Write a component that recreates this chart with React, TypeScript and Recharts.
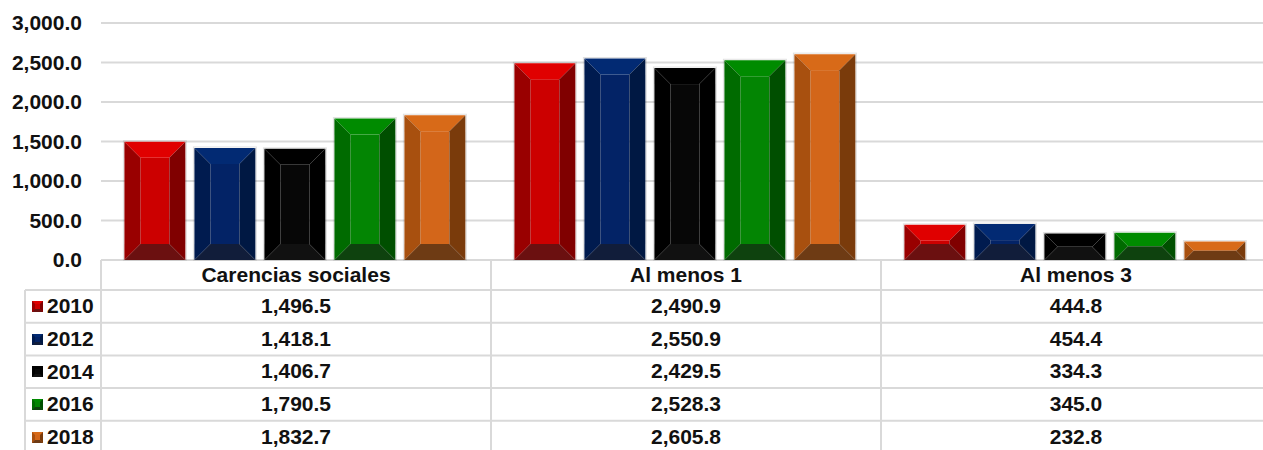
import { BarChart, Bar, XAxis, YAxis, CartesianGrid } from 'recharts'

// categories and values per year (thousands of people)
const categories = ['Carencias sociales', 'Al menos 1', 'Al menos 3']
const years = ['2010', '2012', '2014', '2016', '2018']
const v2010 = [1496.5, 2490.9, 444.8]
const v2012 = [1418.1, 2550.9, 454.4]
const v2014 = [1406.7, 2429.5, 334.3]
const v2016 = [1790.5, 2528.3, 345.0]
const v2018 = [1832.7, 2605.8, 232.8]
const yTicks = [0, 500, 1000, 1500, 2000, 2500, 3000]

const seriesValues = [v2010, v2012, v2014, v2016, v2018]

interface Palette {
  top: string
  left: string
  center: string
  right: string
  bottom: string
}

const palettes: Palette[] = [
  { top: '#e00000', left: '#990000', center: '#cc0000', right: '#800000', bottom: '#6b1010' },
  { top: '#022a73', left: '#001b4f', center: '#032366', right: '#001843', bottom: '#111d3a' },
  { top: '#000000', left: '#000000', center: '#070707', right: '#000000', bottom: '#111111' },
  { top: '#008b00', left: '#006b00', center: '#038503', right: '#004f00', bottom: '#0e420e' },
  { top: '#d86a18', left: '#a8500f', center: '#d3661a', right: '#7a3b0b', bottom: '#6e3b14' },
]

const data = categories.map((name, i) => {
  const row: Record<string, string | number> = { name }
  years.forEach((y, j) => {
    row['y' + y] = seriesValues[j][i]
  })
  return row
})

const fmt = (v: number) =>
  v.toLocaleString('en-US', { minimumFractionDigits: 1, maximumFractionDigits: 1 })

// layout
const PLOT_LEFT = 101
const BAND = 390
const TABLE_TOP = 260
const HEADER_H = 30
const ROW_H = 32.7
const KEY_COL_X = 25
const GRID = '#d9d9d9'
const FONT = 21

function BevelBar(props: any) {
  const { x, y, width: w, height: h, pal } = props
  if (!h || h <= 0) return null
  const b = Math.min(16, h / 2, w / 2)
  const pts = (arr: number[][]) => arr.map(p => p.join(',')).join(' ')
  return (
    <g>
      <rect x={x - 1} y={y - 1} width={w + 2} height={h + 1} fill="none" stroke="rgba(0,0,0,0.12)" />
      <rect x={x + b} y={y + b} width={Math.max(0, w - 2 * b)} height={Math.max(0, h - 2 * b)} fill={pal.center} />
      <polygon points={pts([[x, y], [x + w, y], [x + w - b, y + b], [x + b, y + b]])} fill={pal.top} />
      <polygon points={pts([[x, y], [x + b, y + b], [x + b, y + h - b], [x, y + h]])} fill={pal.left} />
      <polygon points={pts([[x + w, y], [x + w, y + h], [x + w - b, y + h - b], [x + w - b, y + b]])} fill={pal.right} />
      <polygon points={pts([[x, y + h], [x + b, y + h - b], [x + w - b, y + h - b], [x + w, y + h]])} fill={pal.bottom} />
    </g>
  )
}

function LegendKey({ pal }: { pal: Palette }) {
  return (
    <svg width={11} height={11} style={{ display: 'block' }}>
      <rect x={0} y={0} width={11} height={11} fill={pal.center} />
      <polygon points="0,0 11,0 8,3 3,3" fill={pal.top} />
      <polygon points="0,0 3,3 3,8 0,11" fill={pal.left} />
      <polygon points="11,0 11,11 8,8 8,3" fill={pal.right} />
      <polygon points="0,11 3,8 8,8 11,11" fill={pal.bottom} />
    </svg>
  )
}

export default function App() {
  const tableRight = PLOT_LEFT + BAND * categories.length
  const rowsBottom = TABLE_TOP + HEADER_H + ROW_H * years.length
  return (
    <div
      style={{
        position: 'absolute',
        left: 0,
        top: 0,
        width: 1263,
        height: 450,
        overflow: 'hidden',
        background: '#fff',
        fontFamily: '"Liberation Sans", Arial, sans-serif',
        fontWeight: 'bold',
        color: '#111',
      }}
    >
      <BarChart
        width={1275}
        height={450}
        data={data}
        margin={{ top: 23, right: 4, bottom: 190, left: 0 }}
        barCategoryGap="6%"
        barGap={9}
      >
        <CartesianGrid vertical={false} stroke={GRID} strokeWidth={2} />
        <XAxis dataKey="name" hide />
        <YAxis
          domain={[0, 3000]}
          ticks={yTicks}
          interval={0}
          width={PLOT_LEFT}
          axisLine={false}
          tickLine={false}
          tickSize={0}
          tickMargin={19}
          tickFormatter={fmt}
          tick={{ fill: '#111', fontSize: FONT, fontWeight: 'bold' }}
        />
        {years.map((y, j) => (
          <Bar
            key={y}
            dataKey={'y' + y}
            isAnimationActive={false}
            shape={(p: any) => <BevelBar {...p} pal={palettes[j]} />}
          />
        ))}
      </BarChart>

      {/* data table lines */}
      <svg
        width={1263}
        height={450}
        style={{ position: 'absolute', left: 0, top: 0, pointerEvents: 'none' }}
      >
        {categories.map((_, i) => (
          <line
            key={'v' + i}
            x1={PLOT_LEFT + BAND * i}
            x2={PLOT_LEFT + BAND * i}
            y1={TABLE_TOP}
            y2={rowsBottom}
            stroke={GRID}
            strokeWidth={2}
          />
        ))}
        <line x1={tableRight} x2={tableRight} y1={TABLE_TOP} y2={rowsBottom} stroke={GRID} strokeWidth={2} />
        <line x1={KEY_COL_X} x2={KEY_COL_X} y1={TABLE_TOP + HEADER_H} y2={rowsBottom} stroke={GRID} strokeWidth={2} />
        {years.map((_, k) => (
          <line
            key={'h' + k}
            x1={KEY_COL_X}
            x2={tableRight}
            y1={TABLE_TOP + HEADER_H + ROW_H * k}
            y2={TABLE_TOP + HEADER_H + ROW_H * k}
            stroke={GRID}
            strokeWidth={2}
          />
        ))}
      </svg>

      {/* header row */}
      {categories.map((c, i) => (
        <div
          key={c}
          style={{
            position: 'absolute',
            left: PLOT_LEFT + BAND * i,
            top: TABLE_TOP,
            width: BAND,
            height: HEADER_H,
            lineHeight: HEADER_H + 'px',
            textAlign: 'center',
            fontSize: FONT,
          }}
        >
          {c}
        </div>
      ))}

      {/* rows */}
      {years.map((y, j) => {
        const top = TABLE_TOP + HEADER_H + ROW_H * j
        return (
          <div key={y}>
            <div
              style={{
                position: 'absolute',
                left: KEY_COL_X,
                top,
                width: PLOT_LEFT - KEY_COL_X,
                height: ROW_H,
                display: 'flex',
                alignItems: 'center',
                fontSize: FONT,
              }}
            >
              <div style={{ marginLeft: 7, marginRight: 4 }}>
                <LegendKey pal={palettes[j]} />
              </div>
              <span>{y}</span>
            </div>
            {categories.map((c, i) => (
              <div
                key={c}
                style={{
                  position: 'absolute',
                  left: PLOT_LEFT + BAND * i,
                  top,
                  width: BAND,
                  height: ROW_H,
                  lineHeight: ROW_H + 'px',
                  textAlign: 'center',
                  fontSize: FONT,
                }}
              >
                {fmt(seriesValues[j][i])}
              </div>
            ))}
          </div>
        )
      })}
    </div>
  )
}
